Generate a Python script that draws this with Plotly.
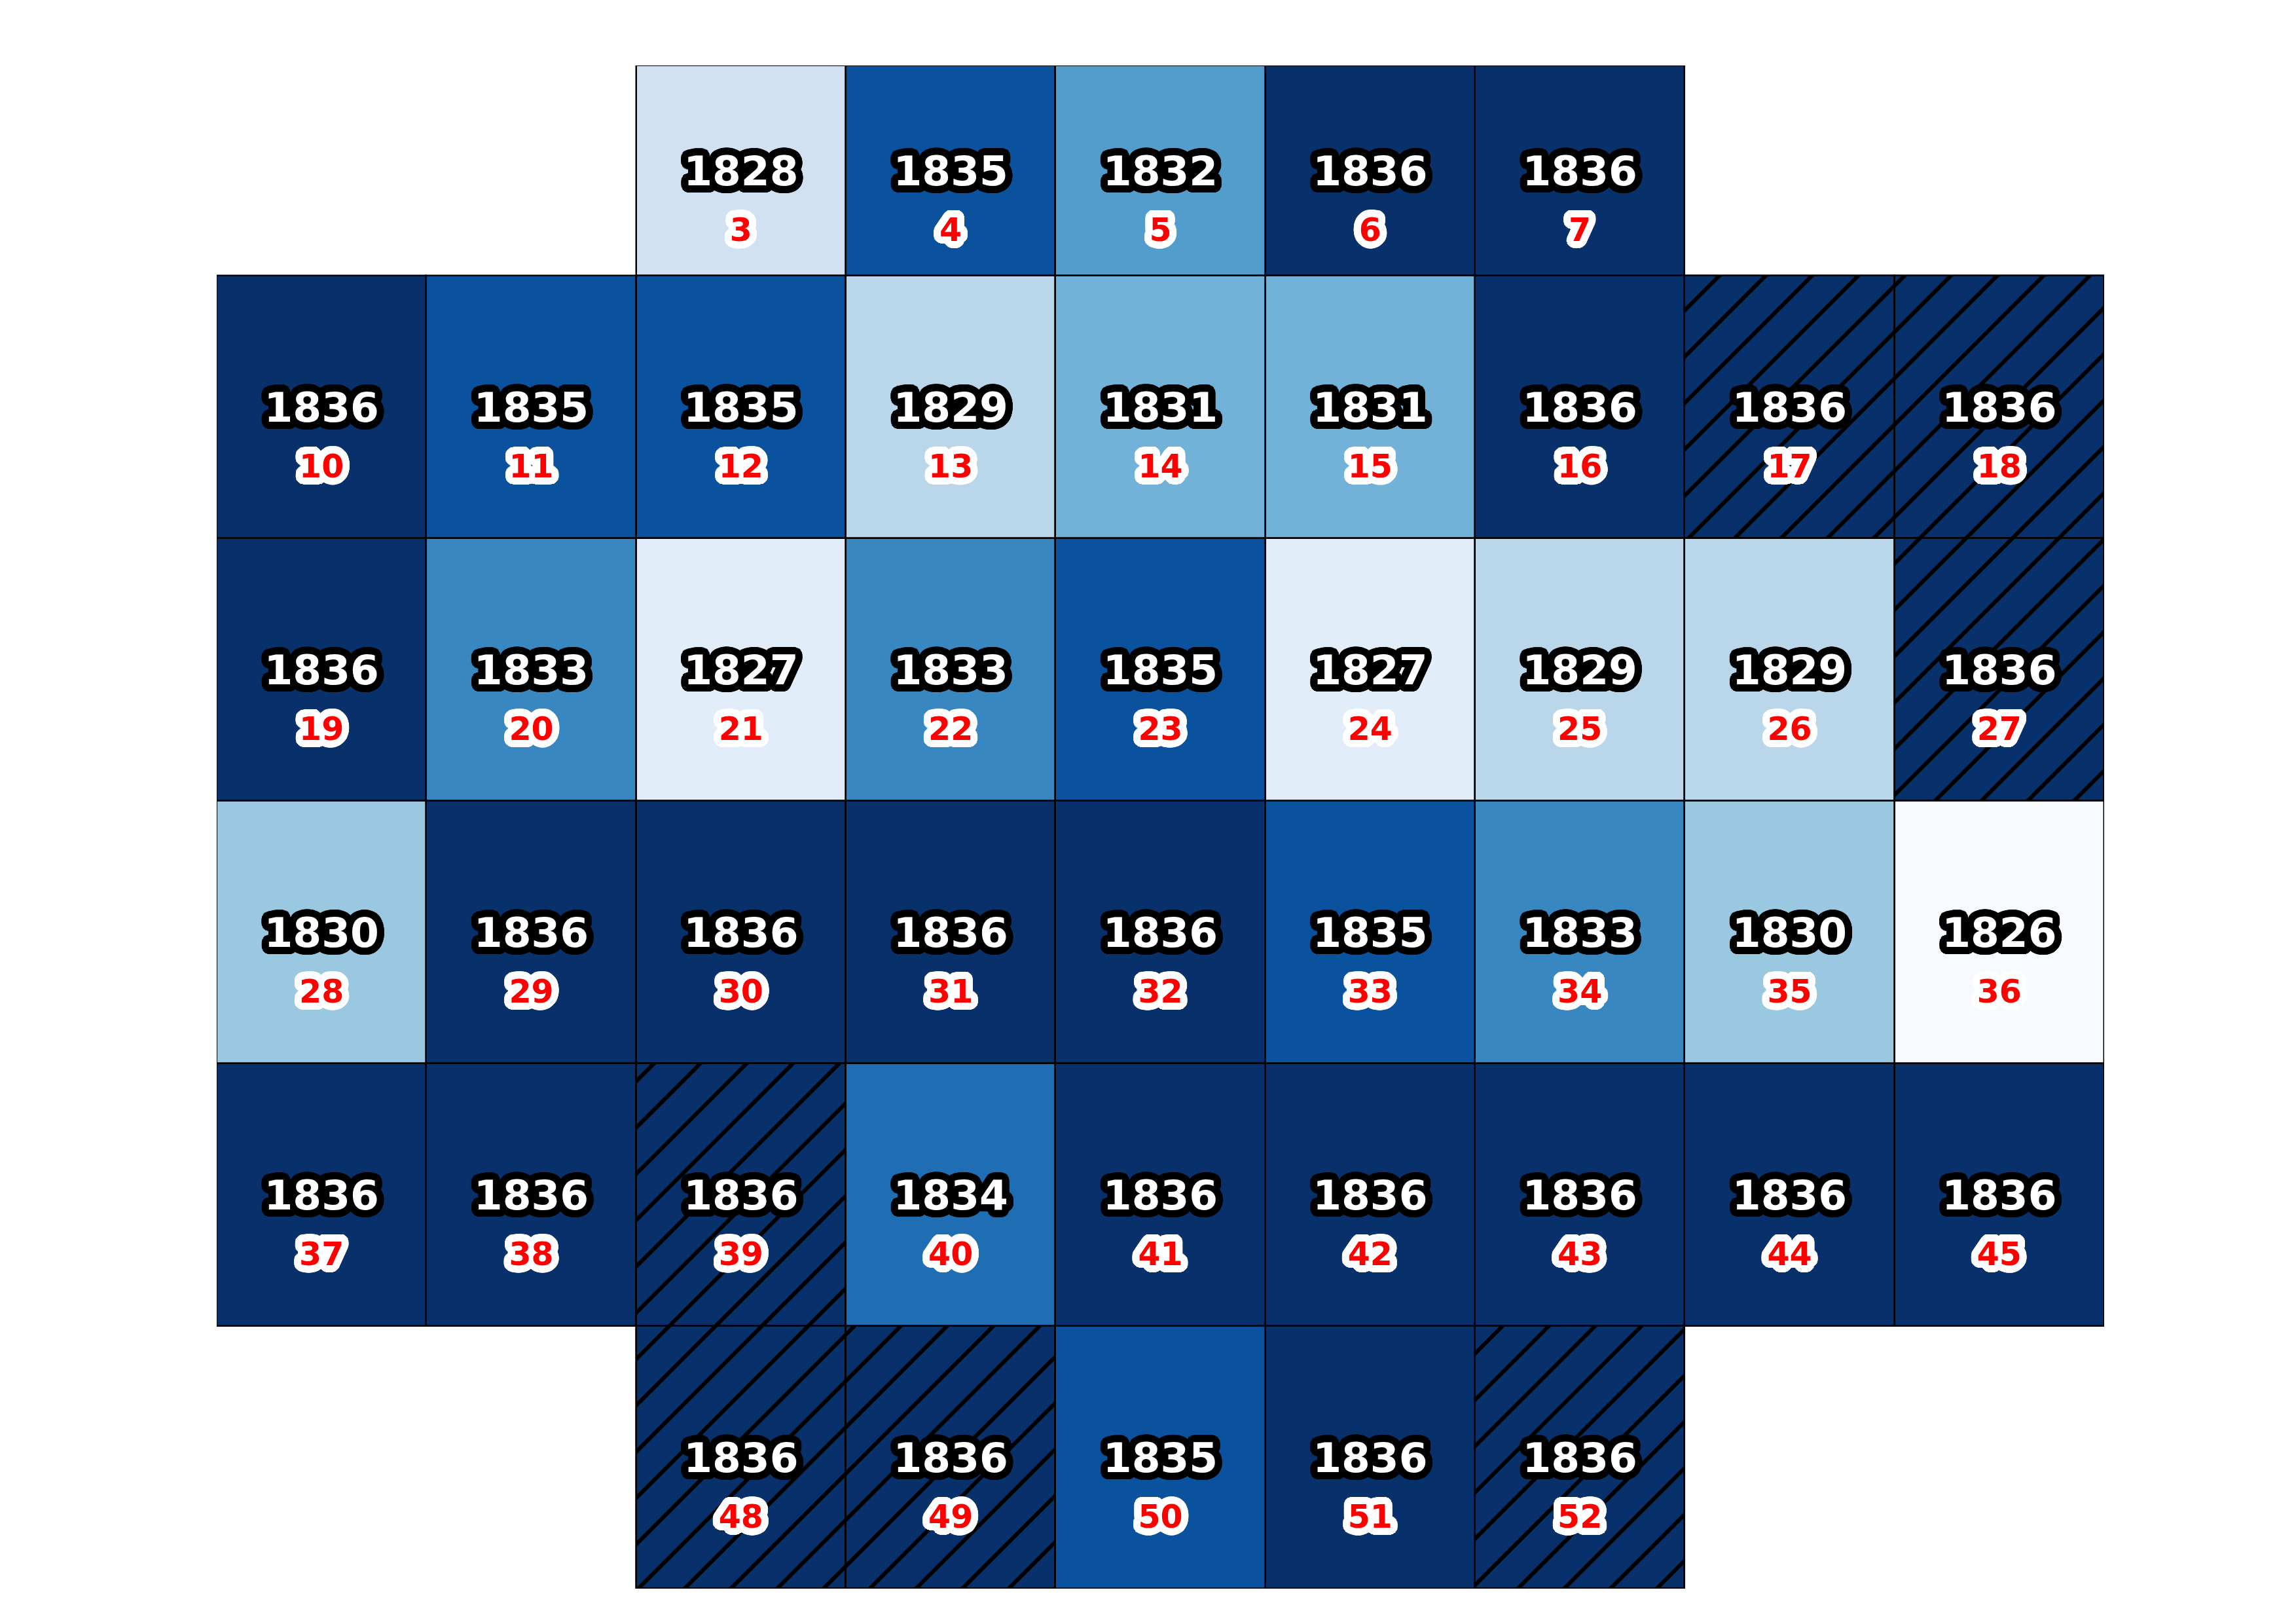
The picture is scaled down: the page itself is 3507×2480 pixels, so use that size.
import math
import plotly.graph_objects as go

# ---- data ----
cell_ids = [3, 4, 5, 6, 7,
            10, 11, 12, 13, 14, 15, 16, 17, 18,
            19, 20, 21, 22, 23, 24, 25, 26, 27,
            28, 29, 30, 31, 32, 33, 34, 35, 36,
            37, 38, 39, 40, 41, 42, 43, 44, 45,
            48, 49, 50, 51, 52]
cols = [2, 3, 4, 5, 6,
        0, 1, 2, 3, 4, 5, 6, 7, 8,
        0, 1, 2, 3, 4, 5, 6, 7, 8,
        0, 1, 2, 3, 4, 5, 6, 7, 8,
        0, 1, 2, 3, 4, 5, 6, 7, 8,
        2, 3, 4, 5, 6]
rows = [0] * 5 + [1] * 9 + [2] * 9 + [3] * 9 + [4] * 9 + [5] * 5
years = [1828, 1835, 1832, 1836, 1836,
         1836, 1835, 1835, 1829, 1831, 1831, 1836, 1836, 1836,
         1836, 1833, 1827, 1833, 1835, 1827, 1829, 1829, 1836,
         1830, 1836, 1836, 1836, 1836, 1835, 1833, 1830, 1826,
         1836, 1836, 1836, 1834, 1836, 1836, 1836, 1836, 1836,
         1836, 1836, 1835, 1836, 1836]
hatched = [0, 0, 0, 0, 0,
           0, 0, 0, 0, 0, 0, 0, 1, 1,
           0, 0, 0, 0, 0, 0, 0, 0, 1,
           0, 0, 0, 0, 0, 0, 0, 0, 0,
           0, 0, 1, 0, 0, 0, 0, 0, 0,
           1, 1, 0, 0, 1]
row_heights = [0.8, 1, 1, 1, 1, 1]   # top row is clipped

# colour ramp (light -> dark blue), one stop per year step
ramp = ['rgb(247,251,255)', 'rgb(225,237,248)', 'rgb(208,225,242)',
        'rgb(186,214,235)', 'rgb(154,200,224)', 'rgb(115,178,216)',
        'rgb(82,157,204)', 'rgb(56,135,192)', 'rgb(31,110,180)',
        'rgb(10,82,158)', 'rgb(8,48,107)']
colorscale = [[i / (len(ramp) - 1), c] for i, c in enumerate(ramp)]

# row geometry (row 0 at top)
row_bottom = []
acc = 0.0
for h in reversed(row_heights):
    row_bottom.insert(0, acc)
    acc += h
total_h = acc

bases = [row_bottom[r] for r in rows]
heights = [row_heights[r] for r in rows]
centers = [row_bottom[r] + row_heights[r] / 2 for r in rows]

TOP, BOTTOM = 100, 2426
px_per_unit = (BOTTOM - TOP) / total_h


def outline(color, r):
    parts = []
    for rr, n in ((r, 48), (r * 0.75, 36), (r * 0.5, 24), (r * 0.25, 12)):
        for k in range(n):
            a = 2 * math.pi * k / n
            parts.append(f"{rr*math.cos(a):.1f}px {rr*math.sin(a):.1f}px 0px {color}")
    return ", ".join(parts)


fig = go.Figure()
fig.add_trace(go.Bar(
    x=cols, y=heights, base=bases, width=1,
    marker=dict(
        color=years, colorscale=colorscale, cmin=min(years), cmax=max(years),
        line=dict(color="black", width=2.5),
    ),
    hoverinfo="skip", showlegend=False,
))

# hatch overlay for flagged cells
hx = [c for c, h in zip(cols, hatched) if h]
hb = [b for b, h in zip(bases, hatched) if h]
hh = [v for v, h in zip(heights, hatched) if h]
fig.add_trace(go.Bar(
    x=hx, y=hh, base=hb, width=1,
    marker=dict(
        color="rgba(0,0,0,0)",
        line=dict(color="black", width=2.5),
        pattern=dict(shape="/", fillmode="replace", fgcolor="black",
                     bgcolor="rgba(0,0,0,0)", fgopacity=1, size=50, solidity=0.12),
    ),
    hoverinfo="skip", showlegend=False,
))

year_shift = 7 / px_per_unit
num_offset = 88 / px_per_unit

fig.add_trace(go.Scatter(
    x=cols, y=[c - year_shift for c in centers], mode="text", text=[str(y) for y in years],
    textposition="middle center",
    textfont=dict(family="DejaVu Sans", size=63, color="white", weight="bold",
                  shadow=outline("black", 11)),
    hoverinfo="skip", showlegend=False,
))
fig.add_trace(go.Scatter(
    x=cols, y=[c - year_shift - num_offset for c in centers], mode="text",
    text=[str(i) for i in cell_ids],
    textposition="middle center",
    textfont=dict(family="DejaVu Sans", size=49, color="red", weight="bold",
                  shadow=outline("white", 11)),
    hoverinfo="skip", showlegend=False,
))

fig.update_layout(
    width=3507, height=2480,
    margin=dict(l=331, r=293, t=TOP, b=2480 - BOTTOM),
    paper_bgcolor="white", plot_bgcolor="white",
    bargap=0, barmode="overlay",
    xaxis=dict(range=[-0.5, 8.5], visible=False, fixedrange=True),
    yaxis=dict(range=[0, total_h], visible=False, fixedrange=True),
)

fig.write_html("out.html")
